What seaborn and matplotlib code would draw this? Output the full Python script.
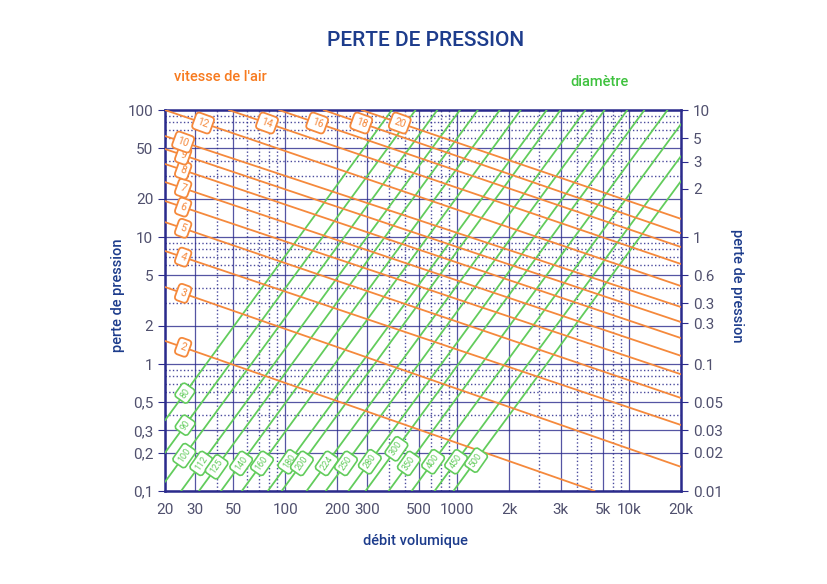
import numpy as np
import pandas as pd
import seaborn as sns
import matplotlib.pyplot as plt
from matplotlib.ticker import LogLocator, NullFormatter, NullLocator

# vitesse de l'air (m/s) : lignes orange
vitesse = [2, 3, 4, 5, 6, 7, 8, 9, 10, 12, 14, 16, 18, 20]
v_debit_debut = [20, 20, 20, 20, 20, 20, 20, 20, 20, 20, 47, 92, 167, 278]
v_perte_debut = [1.52, 4.04, 7.76, 13.1, 19.2, 27.1, 37.6, 49.3, 62.4, 100, 100, 100, 100, 100]
v_debit_fin = [6300, 20000, 20000, 20000, 20000, 20000, 20000, 20000, 20000, 20000, 20000, 20000, 20000, 20000]
v_perte_fin = [0.1, 0.155, 0.331, 0.54, 0.83, 1.16, 1.6, 2.14, 2.81, 4.11, 6.13, 8.34, 10.7, 13.9]

# diamètre (mm) : lignes vertes
diametre = [80, 90, 100, 112, 125, 140, 160, 180, 200, 224, 250, 280, 300, 350, 400, 450, 500]
d_debit_debut = [20, 20, 20, 24.8, 31.5, 42.3, 55.9, 79.2, 95.3, 133, 172, 233, 293, 399, 543, 738, 950]
d_perte_debut = [0.36, 0.2, 0.118, 0.1, 0.1, 0.1, 0.1, 0.1, 0.1, 0.1, 0.1, 0.1, 0.1, 0.1, 0.1, 0.1, 0.1]
d_debit_fin = [417, 572, 766, 1037, 1317, 1768, 2337, 3311, 3984, 5560, 7190, 9740, 12250, 16680, 20000, 20000, 20000]
d_perte_fin = [100, 100, 100, 100, 100, 100, 100, 100, 100, 100, 100, 100, 100, 100, 77.6, 43.4, 27.6]

# axes
x_ticks = [20, 30, 50, 100, 200, 300, 600, 1000, 2000, 4000, 7000, 10000, 20000]
x_labels = ['20', '30', '50', '100', '200', '300', '500', '1000', '2k', '3k', '5k', '10k', '20k']
y_ticks = [100, 50, 20, 10, 5, 2, 1, 0.5, 0.3, 0.2, 0.1]
y_labels = ['100', '50', '20', '10', '5', '2', '1', '0,5', '0,3', '0,2', '0,1']
r_ticks = [10, 6, 3.9, 2.4, 1, 0.5, 0.3, 0.21, 0.1, 0.05, 0.03, 0.02, 0.01]
r_labels = ['10', '5', '3', '2', '1', '0.6', '0.3', '0.3', '0.1', '0.05', '0.03', '0.02', '0.01']

ORANGE = '#f5893c'
GREEN = '#62cc5c'
NAVY = '#2b2b8c'
TITLE = '#1d3c8c'
TICK = '#50506e'

sns.set_style('white')
plt.rcParams['font.family'] = ['Roboto', 'DejaVu Sans']

df_v = pd.DataFrame({
    'debit': v_debit_debut + v_debit_fin,
    'perte': v_perte_debut + v_perte_fin,
    'ligne': vitesse + vitesse,
})
df_d = pd.DataFrame({
    'debit': d_debit_debut + d_debit_fin,
    'perte': d_perte_debut + d_perte_fin,
    'ligne': diametre + diametre,
})

fig = plt.figure(figsize=(8.27, 5.84), dpi=100)
ax = fig.add_axes([0.1995, 0.1592, 0.624, 0.6524])

sns.lineplot(data=df_d, x='debit', y='perte', units='ligne', estimator=None,
             color=GREEN, lw=1.3, sort=False, legend=False, ax=ax, zorder=3)
sns.lineplot(data=df_v, x='debit', y='perte', units='ligne', estimator=None,
             color=ORANGE, lw=1.3, sort=False, legend=False, ax=ax, zorder=4)

ax.set_xscale('log')
ax.set_yscale('log')
ax.set_xlim(20, 20000)
ax.set_ylim(0.1, 100)
ax.set_xticks(x_ticks)
ax.set_xticklabels(x_labels)
ax.set_yticks(y_ticks)
ax.set_yticklabels(y_labels)
ax.xaxis.set_minor_locator(LogLocator(subs=range(2, 10)))
ax.yaxis.set_minor_locator(LogLocator(subs=range(2, 10)))
ax.xaxis.set_minor_formatter(NullFormatter())
ax.yaxis.set_minor_formatter(NullFormatter())
ax.set_xlabel('')
ax.set_ylabel('')
ax.grid(which='major', color=NAVY, lw=0.9, alpha=0.8)
ax.grid(which='minor', color=NAVY, lw=1.0, ls=':', alpha=0.85)
ax.tick_params(which='major', length=5, color=NAVY, labelcolor=TICK, labelsize=11)
ax.tick_params(which='minor', length=0)
for s in ax.spines.values():
    s.set_color(NAVY)
    s.set_linewidth(1.8)

ax2 = ax.twinx()
ax2.set_yscale('log')
ax2.set_ylim(0.01, 10)
ax2.set_yticks(r_ticks)
ax2.set_yticklabels(r_labels)
ax2.yaxis.set_minor_locator(NullLocator())
ax2.tick_params(length=5, color=NAVY, labelcolor=TICK, labelsize=11)
for s in ax2.spines.values():
    s.set_visible(False)


def on_line(x0, y0, x1, y1, x=None, y=None):
    lx0, ly0, lx1, ly1 = np.log10([x0, y0, x1, y1])
    if x is not None:
        t = (np.log10(x) - lx0) / (lx1 - lx0)
        return x, 10 ** (ly0 + t * (ly1 - ly0))
    t = (np.log10(y) - ly0) / (ly1 - ly0)
    return 10 ** (lx0 + t * (lx1 - lx0)), y


# étiquettes des lignes
for i, v in enumerate(vitesse):
    if v_debit_debut[i] <= 20 and v_perte_debut[i] < 100:
        px, py = on_line(v_debit_debut[i], v_perte_debut[i], v_debit_fin[i], v_perte_fin[i], x=25.5)
    else:
        px, py = on_line(v_debit_debut[i], v_perte_debut[i], v_debit_fin[i], v_perte_fin[i], y=79)
    ax.text(px, py, str(v), color=ORANGE, fontsize=7.5, rotation=-20,
            ha='center', va='center', zorder=6,
            bbox=dict(boxstyle='round,pad=0.35', fc='white', ec=ORANGE, lw=1.3))

d_label_y = [0.59, 0.33, 0.19, 0.165, 0.155, 0.165, 0.165, 0.17, 0.165, 0.165, 0.165, 0.17, 0.215, 0.165, 0.17, 0.17, 0.175]
for i, d in enumerate(diametre):
    px, py = on_line(d_debit_debut[i], d_perte_debut[i], d_debit_fin[i], d_perte_fin[i], y=d_label_y[i])
    ax.text(px, py, str(d), color=GREEN, fontsize=6.5, rotation=55,
            ha='center', va='center', zorder=6,
            bbox=dict(boxstyle='round,pad=0.35', fc='white', ec=GREEN, lw=1.2))

fig.text(0.514, 0.93, 'PERTE DE PRESSION', color=TITLE, fontsize=15,
         fontweight='medium', ha='center', va='center')
fig.text(0.211, 0.868, "vitesse de l'air", color='#f77a1e', fontsize=10.5,
         fontweight='medium', ha='left', va='center')
fig.text(0.725, 0.859, 'diamètre', color='#3fc23f', fontsize=10.5,
         fontweight='medium', ha='center', va='center')
fig.text(0.502, 0.074, 'débit volumique', color=TITLE, fontsize=10.5,
         fontweight='medium', ha='center', va='center')
fig.text(0.143, 0.495, 'perte de pression', color=TITLE, fontsize=10.5,
         fontweight='medium', rotation=90, ha='center', va='center')
fig.text(0.891, 0.51, 'perte de pression', color=TITLE, fontsize=10.5,
         fontweight='medium', rotation=-90, ha='center', va='center')

fig.savefig('out.png', dpi=100, facecolor='white')
